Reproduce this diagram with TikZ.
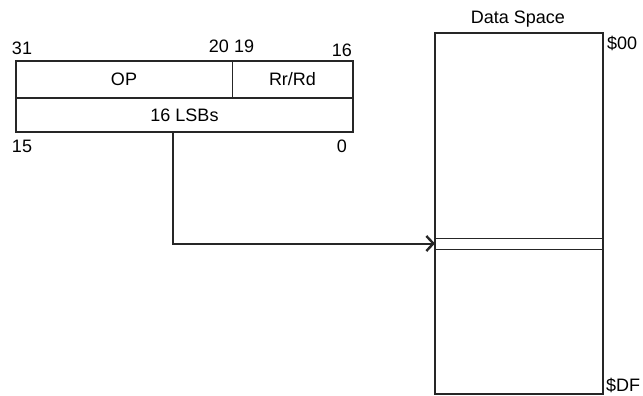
\documentclass[tikz,border=0pt]{standalone}
\usepackage{fontspec}
\setmainfont{Liberation Sans}
\usetikzlibrary{arrows.meta, positioning}

\begin{document}
\begin{tikzpicture}[
        x=1pt, y=-1pt,
        font=\fontsize{18}{21}\selectfont,
        every node/.style={inner sep=0pt, outer sep=0pt},
        field/.style={draw=black!85, line width=2pt, minimum height=#1, align=center},
        split/.style={draw=black!85, line width=1pt},
        bit/.style={font=\fontsize{18}{21}\selectfont},
        arr/.style={-{Straight Barb[length=7pt, width=15pt, line width=2.4pt]}, line width=2pt, draw=black!85}
    ]
        \useasboundingbox (0,0) rectangle (643,396);
        % instruction word
        \node[field=37pt, minimum width=337pt] (word) at (184.5,79.5) {};
        \node[field=34pt, minimum width=337pt] (lsb)  at (184.5,115) {16 LSBs};
        \node at (124,79.5)   (op)  {OP};
        \node at (292.5,79.5) (rrd) {Rr/Rd};
        \draw[split] (232,61) -- (232,98);
        \node[bit, anchor=west] (b31) at (12,48)  {31};
        \node[bit, anchor=east] (b20) at (229,46) {20};
        \node[bit, anchor=west] (b19) at (234,46) {19};
        \node[bit, anchor=east] (b16) at (352,50) {16};
        \node[bit, anchor=west] (b15) at (12,146) {15};
        \node[bit, anchor=east] (b0)  at (347,146) {0};
        % data space
        \node (title) at (518,19) {Data Space};
        \node[split, minimum width=168pt, minimum height=11pt] (slot) at (519,243.5) {};
        \node[field=361pt, minimum width=168pt] (ds) at (519,213.5) {};
        \node[anchor=west] (top) at (607,43)  {\$00};
        \node[anchor=west] (bot) at (606,385) {\$DF};
        \coordinate (tap) at (173,132);
        \draw[arr] (tap) |- (slot.west);
    \end{tikzpicture}
\end{document}
